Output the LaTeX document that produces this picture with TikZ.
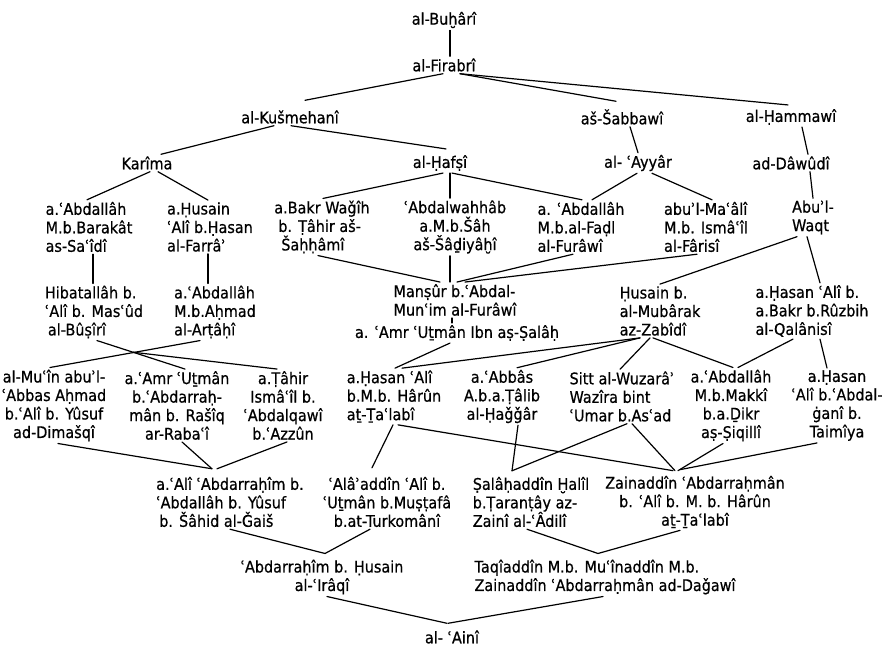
\documentclass[tikz,border=0pt]{standalone}
\usepackage{fontspec}
\setmainfont[FakeStretch=0.9,FakeBold=0.6]{DejaVu Sans}
\usetikzlibrary{calc}
\begin{document}
\begin{tikzpicture}[x=1pt,y=-1pt,
  nm/.style={inner xsep=1pt, inner ysep=2pt, font=\fontsize{16}{18.5}\selectfont, align=center},
  nl/.style={nm, align=left},
  ln/.style={line width=1.2pt, black, line cap=round}]
\useasboundingbox[fill=white] (0,0) rectangle (886,646);
% row 1-2
\node[nm] (buhari) at (444,20) {al-Buḫârî};
\node[nm] (firabri) at (444,65) {al-Firabrî};
\node[nm] (kusm) at (290,117) {al-Kušmehanî};
\node[nm] (sabb) at (622,117) {aš-Šabbawî};
\node[nm] (hamm) at (791,117) {al-Ḥammawî};
\node[nm] (karima) at (147,163) {Karîma};
\node[nm] (hafsi) at (440,163) {al-Ḥafṣî};
\node[nm] (ayyar) at (638,163) {al- ʿAyyâr};
\node[nm] (dawudi) at (791,163) {ad-Dâwûdî};
% row C
\node[nl] (abdA) at (89,227) {a.ʿAbdallâh\\M.b.Barakât\\as-Saʿîdî};
\node[nl] (husA) at (210,227) {a.Ḥusain\\ʿAlî b.Ḥasan\\al-Farrâʾ};
\node[nl] (bakr) at (322,227) {a.Bakr Waǧîh\\\hspace*{4pt}b. Ṭâhir aš-\\\hspace*{7pt}Šaḥḥâmî};
\node[nm] (wahhab) at (455,227) {ʿAbdalwahhâb\\a.M.b.Šâh\\aš-Šâḏiyâḫî};
\node[nl] (abdB) at (581,227) {a. ʿAbdallâh\\M.b.al-Faḍl\\al-Furâwî};
\node[nl] (maali) at (706,227) {abuʾl-Maʿâlî\\M.b. Ismâʿîl\\al-Fârisî};
\node[nl] (waqt) at (813,217.5) {Abuʾl-\\Waqt};
% row D
\node[nl] (hiba) at (94,312) {Hibatallâh b.\\ʿAlî b. Masʿûd\\\hspace*{3pt}al-Bûṣîrî};
\node[nl] (abdC) at (215,312) {a.ʿAbdallâh\\M.b.Aḥmad\\al-Arṭâḥî};
\node[nl] (mansur) at (455,300) {Manṣûr b.ʿAbdal-\\Munʿim al-Furâwî};
\node[nm] (ibnsalah) at (457,333) {a. ʿAmr ʿUṯmân Ibn aṣ-Ṣalâḥ};
\node[nl] (husB) at (660,311) {Ḥusain b.\\al-Mubârak\\az-Zabîdî};
\node[nl] (qalan) at (812,311) {a.Ḥasan ʿAlî b.\\a.Bakr b.Rûzbih\\al-Qalânisî};
% row E
\node[nm] (muin) at (54,405.5) {al-Muʿîn abuʾl-\\ʿAbbas Aḥmad\\b.ʿAlî b. Yûsuf\\ad-Dimašqî};
\node[nm] (amrB) at (177,405.5) {a.ʿAmr ʿUṯmân\\b.ʿAbdarraḥ-\\mân b. Rašîq\\ar-Rabaʿî};
\node[nm] (tahir) at (283,405.5) {a.Ṭâhir\\Ismâʿîl b.\\ʿAbdalqawî\\b.ʿAzzûn};
\node[nl] (hasC) at (394,396.5) {a.Ḥasan ʿAlî\\b.M.b. Hârûn\\aṯ-Ṯaʿlabî};
\node[nm] (abbas) at (502,396.5) {a.ʿAbbâs\\A.b.a.Ṭâlib\\al-Ḥaǧǧâr};
\node[nl] (sitt) at (622,396.5) {Sitt al-Wuzarâʾ\\Wazîra bint\\ʿUmar b.Asʿad};
\node[nm] (makki) at (731,405.5) {a.ʿAbdallâh\\M.b.Makkî\\b.a.Ḏikr\\aṣ-Ṣiqillî};
\node[nm] (taim) at (837,405.5) {a.Ḥasan\\ʿAlî b.ʿAbdal-\\ġanî b.\\Taimîya};
% row F
\node[nl] (aliA) at (230,502) {a.ʿAlî ʿAbdarraḥîm b.\\ʿAbdallâh b. Yûsuf\\\hspace*{3pt}b. Šâhid al-Ǧaiš};
\node[nm] (alaa) at (387,502) {ʿAlâʾaddîn ʿAlî b.\\ʿUṯmân b.Muṣṭafâ\\b.at-Turkomânî};
\node[nl] (salah) at (531,502) {Ṣalâḥaddîn Ḫalîl\\b.Ṭaranṭây az-\\Zainî al-ʿÂdilî};
\node[nm] (zain) at (695,502) {Zainaddîn ʿAbdarraḥmân\\b. ʿAlî b. M. b. Hârûn\\aṯ-Ṯaʿlabî};
% row G, H
\node[nm] (iraqi) at (322,577) {ʿAbdarraḥîm b. Ḥusain\\al-ʿIrâqî};
\node[nl] (taqi) at (605,577) {Taqîaddîn M.b. Muʿînaddîn M.b.\\Zainaddîn ʿAbdarraḥmân ad-Daǧawî};
\node[nm] (aini) at (452,637) {al- ʿAinî};
% connectors
\draw[ln] (buhari.south -| 450,0) -- (firabri.north -| 450,0);
\draw[ln] (firabri.south -| 443,0) -- ($(kusm.north -| 305,0)+(0,-8)$);
\draw[ln] (firabri.south -| 460,0) -- ($(sabb.north -| 616,0)+(0,-6)$);
\draw[ln] (firabri.south -| 460,0) -- ($(hamm.north -| 788,0)+(0,-2)$);
\draw[ln] (kusm.south -| 274,0) -- (karima.north -| 161,0);
\draw[ln] (kusm.south -| 291,0) -- ($(hafsi.north -| 446,0)+(0,-4)$);
\draw[ln] (sabb.south -| 630,0) -- (ayyar.north -| 638,0);
\draw[ln] (hamm.south -| 802,0) -- (dawudi.north -| 808,0);
\draw[ln] (karima.south -| 150,0) -- (abdA.north -| 87,0);
\draw[ln] (karima.south -| 158,0) -- (husA.north -| 208,0);
\draw[ln] (hafsi.south -| 443,0) -- (bakr.north -| 323,0);
\draw[ln] (hafsi.south -| 450,0) -- (wahhab.north -| 450,0);
\draw[ln] (hafsi.south -| 452,0) -- (abdB.north -| 582,0);
\draw[ln] (ayyar.south -| 637,0) -- (abdB.north -| 592,0);
\draw[ln] (ayyar.south -| 652,0) -- (maali.north -| 712,0);
\draw[ln] (dawudi.south -| 810,0) -- (waqt.north -| 813,0);
\draw[ln] (abdA.south -| 93,0) -- (hiba.north -| 93,0);
\draw[ln] (husA.south -| 208,0) -- (abdC.north -| 208,0);
\draw[ln] (bakr.south -| 318,0) -- (mansur.north -| 440,0);
\draw[ln] (wahhab.south -| 450,0) -- (mansur.north -| 450,0);
\draw[ln] (abdB.south -| 573,0) -- (mansur.north -| 457,0);
\draw[ln] (maali.south -| 697,0) -- (mansur.north -| 465,0);
\draw[ln] (waqt.south -| 797,0) -- (husB.north -| 660,0);
\draw[ln] (waqt.south -| 807,0) -- (qalan.north -| 820,0);
\draw[ln] (mansur.south -| 452,0) -- (ibnsalah.north -| 452,0);
\draw[ln] (ibnsalah.south -| 450,0) -- (hasC.north -| 395,0);
\draw[ln] (husB.south -| 640,0) -- (hasC.north -| 402,0);
\draw[ln] (husB.south -| 640,0) -- (abbas.north -| 517,0);
\draw[ln] (husB.south -| 650,0) -- (sitt.north -| 620,0);
\draw[ln] (husB.south -| 653,0) -- (makki.north -| 733,0);
\draw[ln] (qalan.south -| 793,0) -- (makki.north -| 738,0);
\draw[ln] (qalan.south -| 820,0) -- (taim.north -| 827,0);
\coordinate (jx) at ($(hiba.south -| 97,0)!0.41!(amrB.north -| 185,0)$);
\draw[ln] (hiba.south -| 97,0) -- (amrB.north -| 185,0);
\draw[ln] (jx) -- (tahir.north -| 277,0);
\draw[ln] (abdC.south -| 200,0) -- (muin.north -| 50,0);
\draw[ln] (muin.south -| 58,0) -- ($(aliA.north -| 212,0)+(0,-6)$);
\draw[ln] (amrB.south -| 182,0) -- ($(aliA.north -| 212,0)+(0,-6)$);
\draw[ln] (tahir.south -| 287,0) -- ($(aliA.north -| 217,0)+(0,-6)$);
\draw[ln] (hasC.south -| 393,0) -- ($(alaa.north -| 372,0)+(0,-7)$);
\draw[ln] (hasC.south -| 398,0) -- ($(zain.north -| 673,0)+(0,-3)$);
\draw[ln] (abbas.south -| 518,0) -- ($(salah.north -| 512,0)+(0,-4)$);
\draw[ln] (sitt.south -| 627,0) -- ($(salah.north -| 512,0)+(0,-4)$);
\draw[ln] (sitt.south -| 632,0) -- ($(zain.north -| 675,0)+(0,-3)$);
\draw[ln] (makki.south -| 723,0) -- ($(zain.north -| 678,0)+(0,-3)$);
\draw[ln] (taim.south -| 817,0) -- ($(zain.north -| 680,0)+(0,-4)$);
\draw[ln] (aliA.south -| 230,0) -- ($(iraqi.north -| 325,0)+(0,-4)$);
\draw[ln] (alaa.south -| 370,0) -- ($(iraqi.north -| 325,0)+(0,-4)$);
\draw[ln] (salah.south -| 527,0) -- ($(taqi.north -| 598,0)+(0,-4)$);
\draw[ln] (zain.south -| 680,0) -- ($(taqi.north -| 598,0)+(0,-4)$);
\draw[ln] (iraqi.south -| 327,0) -- ($(aini.north -| 447,0)+(0,-5)$);
\draw[ln] (taqi.south -| 603,0) -- ($(aini.north -| 448,0)+(0,-5)$);
\end{tikzpicture}
\end{document}
